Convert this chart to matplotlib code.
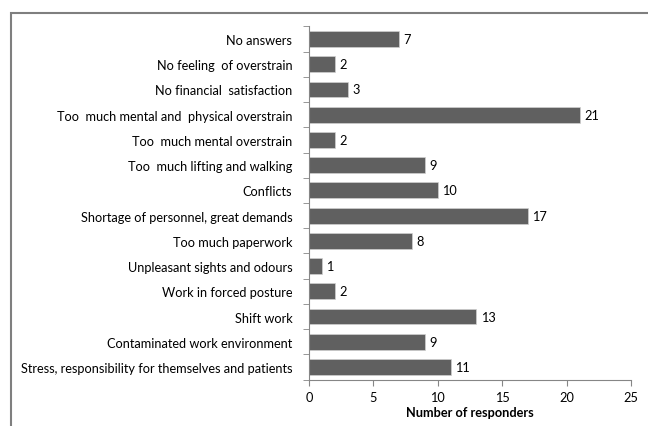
import matplotlib.pyplot as plt
from matplotlib.patches import Rectangle
import numpy as np

plt.rcParams['font.family'] = ['Lato', 'DejaVu Sans']

categories = [
    'No answers',
    'No feeling  of overstrain',
    'No financial  satisfaction',
    'Too  much mental and  physical overstrain',
    'Too  much mental overstrain',
    'Too  much lifting and walking',
    'Conflicts',
    'Shortage of personnel, great demands',
    'Too much paperwork',
    'Unpleasant sights and odours',
    'Work in forced posture',
    'Shift work',
    'Contaminated work environment',
    'Stress, responsibility for themselves and patients',
]
responders = [7, 2, 3, 21, 2, 9, 10, 17, 8, 1, 2, 13, 9, 11]

fig = plt.figure(figsize=(6.48, 4.27), dpi=100)
ax = fig.add_axes([0.4769, 0.1087, 0.4969, 0.8271])

# outer frame, runs off the right and bottom edge
fig.patches.append(Rectangle((10.5 / 648, -0.1), 1.2, 1 - 13.5 / 427 + 0.1,
                             transform=fig.transFigure, fill=False,
                             edgecolor='#7f7f7f', linewidth=1.5))

fs = 9.2
y = np.arange(len(categories))
ax.barh(y, responders, height=0.63, color='#606060', edgecolor='#d0d0d0', linewidth=0.5)
for yi, v in zip(y, responders):
    ax.text(v + 0.35, yi, str(v), va='center', ha='left', fontsize=fs, color='black')

ax.set_ylim(len(categories) - 0.5, -0.5)
ax.set_xlim(0, 25)
ax.set_xticks([0, 5, 10, 15, 20, 25])
ax.set_yticks(y)
ax.set_yticklabels(categories, fontsize=fs)
ax.set_yticks(np.arange(-0.5, len(categories)), minor=True)
ax.tick_params(axis='y', which='major', length=0, pad=12)
ax.tick_params(axis='y', which='minor', length=4, color='#868686', direction='out')
ax.tick_params(axis='x', length=4, color='#868686', direction='out', labelsize=fs, pad=4)
ax.set_xlabel('Number of responders', fontsize=fs, fontweight='bold', labelpad=2.5)

for s in ['top', 'right']:
    ax.spines[s].set_visible(False)
for s in ['left', 'bottom']:
    ax.spines[s].set_color('#868686')
    ax.spines[s].set_linewidth(0.8)

fig.savefig('out.png', dpi=100)
